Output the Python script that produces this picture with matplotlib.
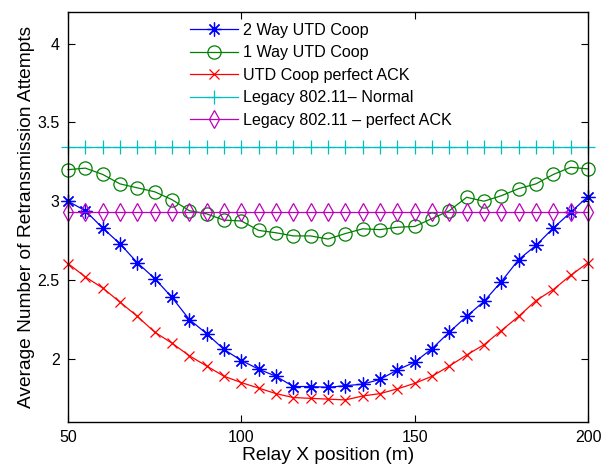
import matplotlib
matplotlib.use("Agg")
import matplotlib.pyplot as plt

plt.rcParams['font.family'] = ['Liberation Sans', 'DejaVu Sans']

# Relay x positions (m)
relay_x = list(range(50, 201, 5))

two_way_utd = [3.00, 2.94, 2.83, 2.73, 2.61, 2.51, 2.39, 2.25, 2.16, 2.06,
               1.99, 1.935, 1.89, 1.825, 1.825, 1.82, 1.83, 1.84, 1.87, 1.93,
               1.98, 2.065, 2.17, 2.27, 2.365, 2.49, 2.63, 2.72, 2.83, 2.93, 3.03]

one_way_utd = [3.20, 3.21, 3.17, 3.11, 3.085, 3.06, 3.01, 2.94, 2.92, 2.88,
               2.875, 2.815, 2.80, 2.78, 2.78, 2.76, 2.795, 2.825, 2.82, 2.835,
               2.84, 2.89, 2.94, 3.025, 3.00, 3.035, 3.08, 3.11, 3.17, 3.215, 3.205]

utd_perfect_ack = [2.605, 2.52, 2.45, 2.36, 2.27, 2.17, 2.10, 2.02, 1.955, 1.89,
                   1.85, 1.815, 1.78, 1.755, 1.75, 1.745, 1.74, 1.765, 1.78, 1.81,
                   1.845, 1.89, 1.955, 2.025, 2.09, 2.18, 2.27, 2.37, 2.44, 2.53, 2.61]

legacy_normal_value = 3.342
legacy_perfect_value = 2.934
legacy_normal = [legacy_normal_value] * len(relay_x)
legacy_perfect = [legacy_perfect_value] * len(relay_x)

labels = ["2 Way UTD Coop", "1 Way UTD Coop", "UTD Coop perfect ACK",
          "Legacy 802.11\u2013 Normal", "Legacy 802.11 \u2013 perfect ACK"]

x_ticks = [50, 100, 150, 200]
y_ticks = [2, 2.5, 3, 3.5, 4]

fig = plt.figure(figsize=(6.08, 4.67), dpi=100)
ax = fig.add_axes([68 / 608, 1 - 422 / 467, 520 / 608, 410 / 467])

lw = 0.9
mew = 0.9
common = dict(lw=lw, markeredgewidth=mew, clip_on=False)
ax.plot(relay_x, two_way_utd, color=(0, 0, 1), marker=(8, 2, 0),
        markersize=10, label=labels[0], **common)
ax.plot(relay_x, one_way_utd, color=(0, 0.5, 0), marker='o',
        markersize=9.5, markerfacecolor='none', label=labels[1], **common)
ax.plot(relay_x, utd_perfect_ack, color=(1, 0, 0), marker='x',
        markersize=7.5, label=labels[2], **common)
ax.plot(relay_x, legacy_normal, color=(0, 0.75, 0.75), marker='+',
        markersize=10, label=labels[3], **common)
ax.plot(relay_x, legacy_perfect, color=(0.75, 0, 0.75), marker='d',
        markersize=8.7, markerfacecolor='none', label=labels[4], **common)

ax.set_xlim(50, 200)
ax.set_ylim(1.6, 4.2)
ax.set_xticks(x_ticks)
ax.set_xticklabels([str(t) for t in x_ticks])
ax.set_yticks(y_ticks)
ax.set_yticklabels(["2", "2.5", "3", "3.5", "4"])
ax.tick_params(direction='in', top=True, right=True, length=5, width=0.8,
               labelsize=11.5, pad=6)
for s in ax.spines.values():
    s.set_linewidth(1.0)

ax.set_xlabel("Relay X position (m)", fontsize=13.8, labelpad=1)
ax.set_ylabel("Average Number of Retransmission Attempts", fontsize=13.8, labelpad=1.5)

ax.legend(loc='upper left', bbox_to_anchor=(190 / 608, 1 - 23 / 467),
          bbox_transform=fig.transFigure, frameon=False, fontsize=11.6,
          handlelength=2.95, handletextpad=0.33, labelspacing=0.46,
          borderpad=0, borderaxespad=0)

fig.savefig("out.png", dpi=100)
